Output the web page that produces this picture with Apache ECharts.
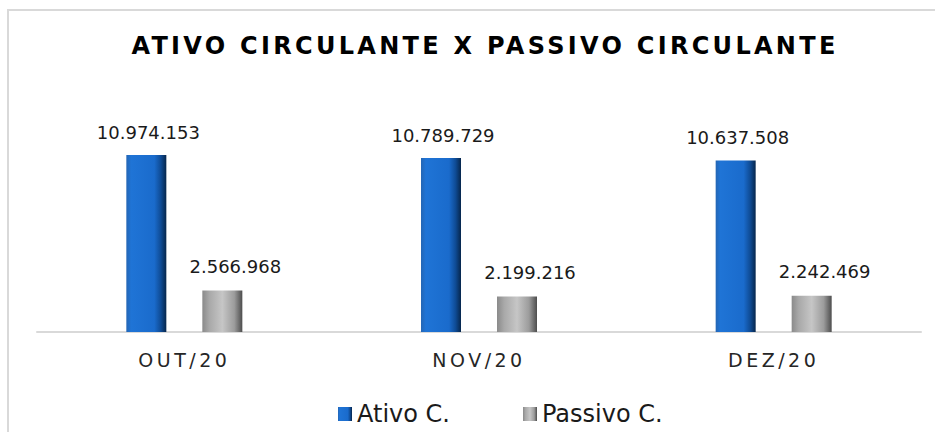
<!DOCTYPE html>
<html>
<head>
<meta charset="utf-8">
<script src="https://cdn.jsdelivr.net/npm/echarts@6/dist/echarts.min.js"></script>
<style>
  html, body { margin: 0; padding: 0; background: #fff; }
  #chart { width: 935px; height: 432px; }
</style>
</head>
<body>
<div id="chart"></div>
<script>
// dados do grafico
var titulo = 'ATIVO CIRCULANTE X PASSIVO CIRCULANTE';
var meses = ['OUT/20', 'NOV/20', 'DEZ/20'];
var ativoC = [10974153, 10789729, 10637508];
var passivoC = [2566968, 2199216, 2242469];
var nomesSeries = ['Ativo C.', 'Passivo C.'];

function formataNumero(v) {
  return String(v).replace(/\B(?=(\d{3})+(?!\d))/g, '.');
}

var azul = new echarts.graphic.LinearGradient(0, 0, 1, 0, [
  {offset: 0, color: '#2466b4'},
  {offset: 0.12, color: '#1f74d6'},
  {offset: 0.7, color: '#1a6bcc'},
  {offset: 0.86, color: '#0f4c96'},
  {offset: 1, color: '#06264c'}
]);
var cinza = new echarts.graphic.LinearGradient(0, 0, 1, 0, [
  {offset: 0, color: '#8a8a8a'},
  {offset: 0.18, color: '#a9a9a9'},
  {offset: 0.5, color: '#c6c6c6'},
  {offset: 0.8, color: '#9c9c9c'},
  {offset: 1, color: '#4d4d4d'}
]);

var myChart = echarts.init(document.getElementById('chart'), null, {renderer: 'svg'});

var option = {
  animation: false,
  title: {
    text: titulo,
    left: 480,
    top: 29,
    textAlign: 'center',
    textStyle: {
      fontFamily: 'DejaVu Sans',
      fontWeight: 'bold',
      fontSize: 24,
      color: '#000'
    }
  },
  graphic: [{
    type: 'rect',
    silent: true,
    shape: {x: 8, y: 10, width: 940, height: 440},
    style: {fill: 'none', stroke: '#d9d9d9', lineWidth: 2}
  }],
  legend: {
    left: 333,
    top: 397,
    itemWidth: 14,
    itemHeight: 14,
    itemGap: 73,
    icon: 'rect',
    textStyle: {fontFamily: 'DejaVu Sans', fontSize: 24, color: '#1a1a1a'},
    data: nomesSeries
  },
  grid: {left: 37, right: 14, top: 138.5, bottom: 100},
  xAxis: {
    type: 'category',
    data: meses,
    axisLine: {lineStyle: {color: '#d9d9d9', width: 2}},
    axisTick: {show: false},
    axisLabel: {
      margin: 18,
      fontFamily: 'DejaVu Sans',
      fontSize: 19,
      color: '#262626'
    }
  },
  yAxis: {
    type: 'value',
    min: 0,
    max: 12000000,
    show: false,
    splitLine: {show: false}
  },
  series: [
    {
      name: nomesSeries[0],
      type: 'bar',
      data: ativoC,
      barWidth: 40,
      barGap: '90%',
      itemStyle: {color: azul},
      label: {
        show: true,
        position: 'top',
        distance: 14,
        offset: [2, 0],
        fontFamily: 'DejaVu Sans',
        fontSize: 18,
        color: '#1a1a1a',
        formatter: function (p) { return formataNumero(p.value); }
      }
    },
    {
      name: nomesSeries[1],
      type: 'bar',
      data: passivoC,
      barWidth: 40,
      itemStyle: {color: cinza},
      label: {
        show: true,
        position: 'top',
        distance: 15,
        offset: [13, 0],
        fontFamily: 'DejaVu Sans',
        fontSize: 18,
        color: '#1a1a1a',
        formatter: function (p) { return formataNumero(p.value); }
      }
    }
  ]
};

myChart.setOption(option);

// espacamento entre letras do titulo e dos meses (como no original)
function espacaTextos() {
  var textos = document.querySelectorAll('#chart text');
  for (var i = 0; i < textos.length; i++) {
    var t = textos[i].textContent;
    if (t === titulo) {
      textos[i].style.letterSpacing = '3.3px';
    } else if (meses.indexOf(t) >= 0) {
      textos[i].style.letterSpacing = '3.5px';
    }
  }
}
espacaTextos();
myChart.on('finished', espacaTextos);
</script>
</body>
</html>
